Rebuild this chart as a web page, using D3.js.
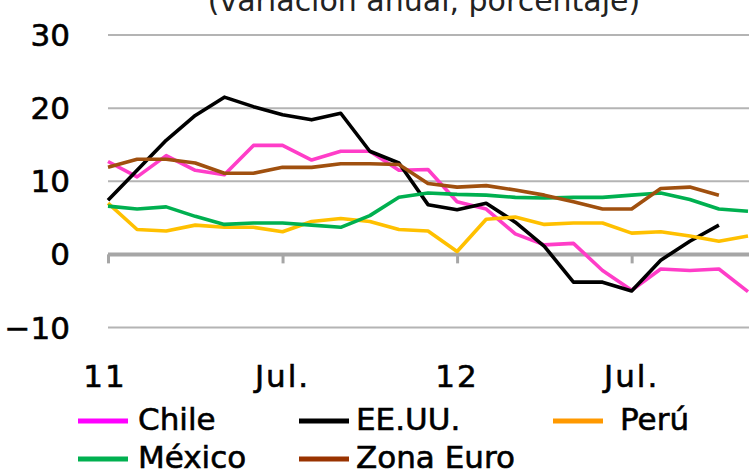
<!DOCTYPE html>
<html>
<head>
<meta charset="utf-8">
<script src="https://cdn.jsdelivr.net/npm/d3@7"></script>
<style>
  body { margin: 0; background: #fff; }
  svg { display: block; font-family: "DejaVu Sans", sans-serif; }
</style>
</head>
<body>
<script>
// Months from Jan 2011 to Nov 2012
var months = d3.range(23);
var tickMonths = [0, 6, 12, 18];
var tickLabels = ["11", "Jul.", "12", "Jul."];
var yTicks = [30, 20, 10, 0, -10];

var chile = [12.7, 10.6, 13.5, 11.5, 10.9, 14.9, 14.9, 12.9, 14.1, 14.1, 11.5, 11.6,
             7.2, 6.2, 2.8, 1.3, 1.5, -2.2, -4.9, -2.0, -2.2, -2.0, -5.1];
var eeuu = [7.4, 11.5, 15.6, 19.0, 21.5, 20.2, 19.1, 18.4, 19.3, 14.1, 12.5, 6.8,
            6.1, 7.0, 4.4, 1.1, -3.8, -3.8, -5.0, -0.8, 1.8, 4.0];
var peru = [7.0, 3.4, 3.2, 4.0, 3.7, 3.7, 3.1, 4.5, 4.9, 4.5, 3.4, 3.2,
            0.4, 4.8, 5.1, 4.1, 4.3, 4.3, 2.9, 3.1, 2.5, 1.8, 2.5];
var mexico = [6.6, 6.2, 6.5, 5.2, 4.1, 4.3, 4.3, 4.0, 3.7, 5.3, 7.8, 8.4,
              8.2, 8.1, 7.8, 7.7, 7.8, 7.8, 8.1, 8.4, 7.5, 6.2, 5.9];
var zonaEuro = [11.9, 13.0, 13.0, 12.5, 11.1, 11.1, 11.9, 11.9, 12.4, 12.4, 12.3, 9.7,
                9.2, 9.4, 8.8, 8.1, 7.2, 6.2, 6.2, 9.0, 9.2, 8.1];

var seriesNames = ["Chile", "EE.UU.", "Perú", "México", "Zona Euro"];
var seriesValues = [chile, eeuu, peru, mexico, zonaEuro];
var lineColors = ["#ff3dc8", "#000000", "#ffc000", "#00b050", "#a0500f"];
var legendColors = ["#ff00ff", "#000000", "#ff9900", "#00b050", "#993300"];

var svgWidth = 749;
var svgHeight = 473;

var svg = d3.select("body")
  .append("svg")
  .attr("width", svgWidth)
  .attr("height", svgHeight);

var xScale = d3.scaleLinear()
  .domain([0, 22])
  .range([108, 748]);

var yScale = d3.scaleLinear()
  .domain([-10, 30])
  .range([327.5, 35]);

// title (partly cut off at the top, as in the source)
svg.append("text")
  .attr("x", 424)
  .attr("y", 11)
  .attr("text-anchor", "middle")
  .attr("font-size", "30px")
  .attr("fill", "#222")
  .text("(variación anual, porcentaje)");

// gridlines
svg.append("g")
  .selectAll("line")
  .data(yTicks.filter(d => d !== 0))
  .enter()
  .append("line")
  .attr("x1", 108)
  .attr("x2", svgWidth)
  .attr("y1", d => yScale(d))
  .attr("y2", d => yScale(d))
  .attr("stroke", "#b4b4b4")
  .attr("stroke-width", 2);

// y labels
svg.append("g")
  .selectAll("text")
  .data(yTicks)
  .enter()
  .append("text")
  .attr("x", 70)
  .attr("y", d => yScale(d) + 11)
  .attr("text-anchor", "end")
  .attr("font-size", "31px")
  .attr("fill", "#000")
  .attr("stroke", "#000")
  .attr("stroke-width", 0.6)
  .text(d => d < 0 ? "\u2212" + Math.abs(d) : d);

// x axis at zero
var bottomAxis = d3.axisBottom(xScale)
  .tickValues(tickMonths)
  .tickSize(9)
  .tickSizeOuter(0)
  .tickFormat("");

var xAxis = svg.append("g")
  .attr("transform", `translate(0, ${yScale(0)})`)
  .call(bottomAxis);
xAxis.select(".domain")
  .attr("d", `M108,0H${svgWidth}`)
  .attr("stroke", "#a6a6a6")
  .attr("stroke-width", 4);
xAxis.selectAll(".tick line")
  .attr("stroke", "#a6a6a6")
  .attr("stroke-width", 3);

// x labels
svg.append("g")
  .selectAll("text")
  .data(tickMonths)
  .enter()
  .append("text")
  .attr("x", (d, i) => xScale(d) + (i === 0 ? -3 : 0))
  .attr("y", 387)
  .attr("text-anchor", "middle")
  .attr("font-size", "31px")
  .attr("letter-spacing", "2px")
  .attr("fill", "#000")
  .attr("stroke", "#000")
  .attr("stroke-width", 0.6)
  .text((d, i) => tickLabels[i]);

// lines
var line = d3.line()
  .x((d, i) => xScale(months[i]))
  .y(d => yScale(d));

svg.append("g")
  .selectAll("path")
  .data(seriesValues)
  .enter()
  .append("path")
  .attr("d", d => line(d))
  .attr("fill", "none")
  .attr("stroke", (d, i) => lineColors[i])
  .attr("stroke-width", 3.6)
  .attr("stroke-linejoin", "round");

// legend
var legendSwatchX = [78, 299, 553];
var legendTextX = [138, 356, 620];
var legendRowY = [430, 468];

var legend = svg.append("g")
  .selectAll("g")
  .data(seriesNames)
  .enter()
  .append("g");

legend.append("line")
  .attr("x1", (d, i) => legendSwatchX[i % 3])
  .attr("x2", (d, i) => legendSwatchX[i % 3] + 50)
  .attr("y1", (d, i) => legendRowY[Math.floor(i / 3)] - 9)
  .attr("y2", (d, i) => legendRowY[Math.floor(i / 3)] - 9)
  .attr("stroke", (d, i) => legendColors[i])
  .attr("stroke-width", 5);

legend.append("text")
  .attr("x", (d, i) => legendTextX[i % 3])
  .attr("y", (d, i) => legendRowY[Math.floor(i / 3)])
  .attr("font-size", "31px")
  .attr("fill", "#000")
  .attr("stroke", "#000")
  .attr("stroke-width", 0.6)
  .text(d => d);
</script>
</body>
</html>
